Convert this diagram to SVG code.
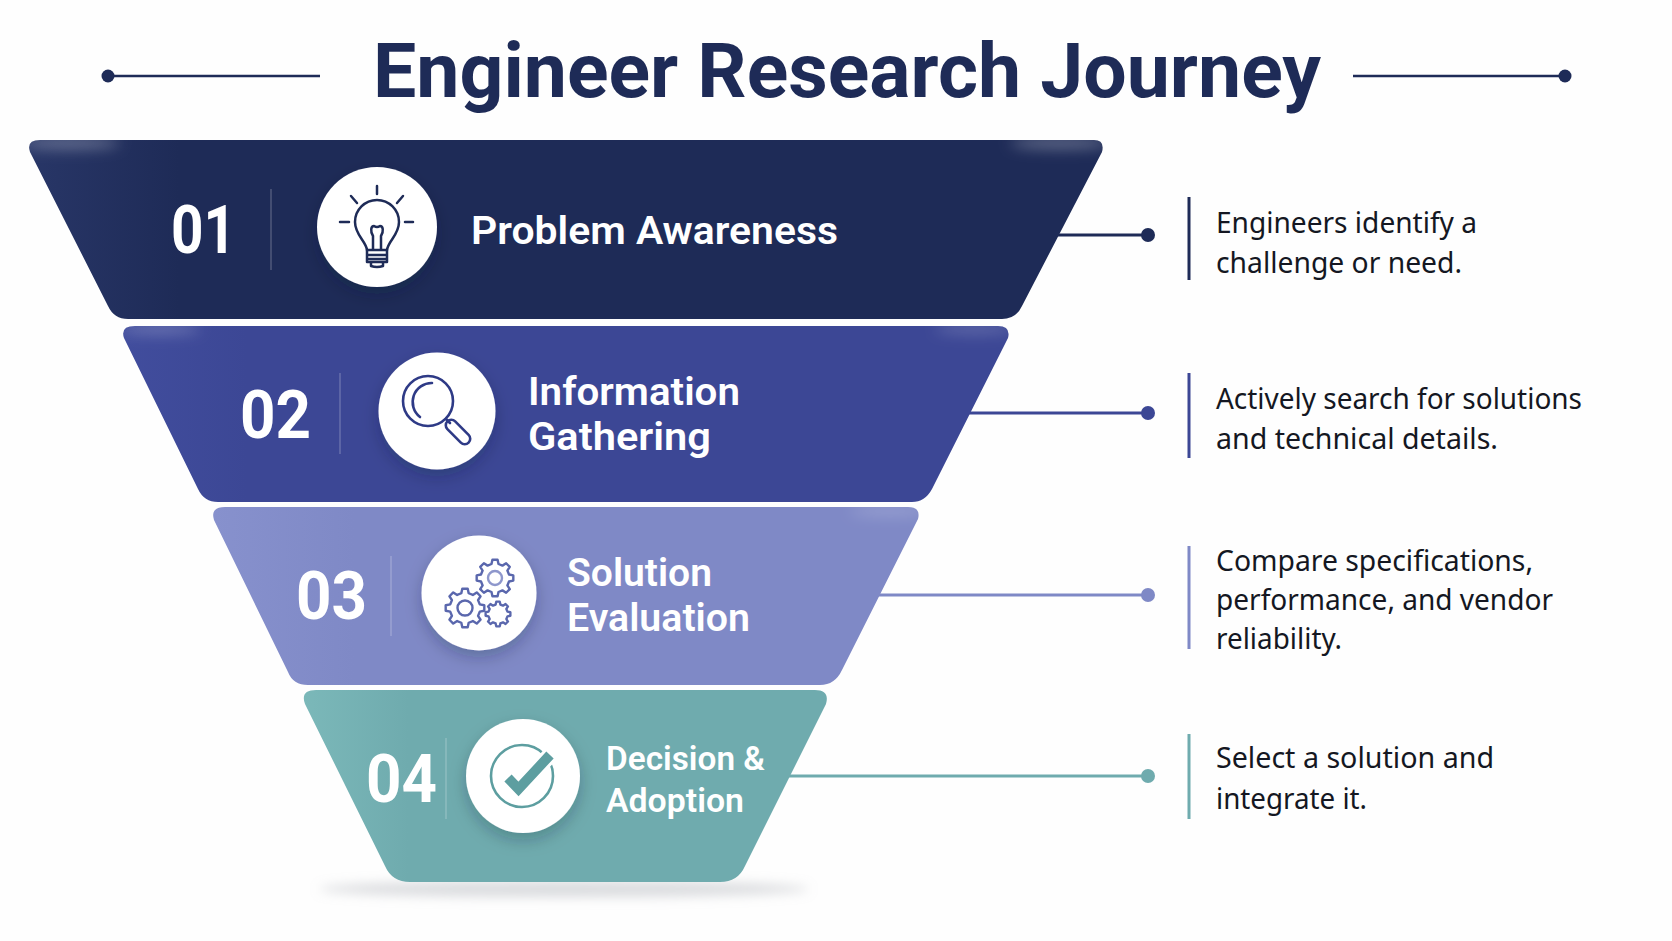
<svg xmlns="http://www.w3.org/2000/svg" xmlns:xlink="http://www.w3.org/1999/xlink" width="1672" height="941" viewBox="0 0 1672 941">
<style>
text{font-family:"Noto Sans","Open Sans",sans-serif}
.title{font-family:Roboto,"Noto Sans",sans-serif;font-size:76px;font-weight:700;fill:#1e2b57}
.num{font-family:Roboto,"Noto Sans",sans-serif;font-size:67px;font-weight:700;fill:#fff}
.lab{font-family:Roboto,"Noto Sans",sans-serif;font-size:38px;font-weight:600;fill:#fff}
.body{font-size:29px;font-weight:400;fill:#141722}
.ic{fill:none;stroke-linecap:round;stroke-linejoin:round}
.gear{fill:none;stroke:#5a67ad;stroke-linejoin:round}
.div{stroke:#fff;stroke-opacity:.22;stroke-width:1.5}
.disc{fill:#fff;filter:url(#ds)}
</style>
<defs>
<filter id="ds" x="-40%" y="-40%" width="180%" height="180%"><feDropShadow dx="0" dy="7" stdDeviation="8" flood-color="#10152f" flood-opacity=".25"/></filter>
<filter id="b8" x="-50%" y="-200%" width="200%" height="500%"><feGaussianBlur stdDeviation="7"/></filter>
<filter id="b6" x="-20%" y="-200%" width="140%" height="500%"><feGaussianBlur stdDeviation="6"/></filter>
<linearGradient id="g1" x1="0" x2="1" y1="0" y2="0"><stop offset="0" stop-color="#283667"/><stop offset=".14" stop-color="#1e2b57"/><stop offset="1" stop-color="#1e2b57"/></linearGradient>
<linearGradient id="g2" x1="0" x2="1" y1="0" y2="0"><stop offset="0" stop-color="#414d9d"/><stop offset=".14" stop-color="#3c4795"/><stop offset="1" stop-color="#3c4795"/></linearGradient>
<linearGradient id="g3" x1="0" x2="1" y1="0" y2="0"><stop offset="0" stop-color="#8791cd"/><stop offset=".2" stop-color="#7f89c6"/><stop offset="1" stop-color="#7f89c6"/></linearGradient>
<linearGradient id="g4" x1="0" x2="1" y1="0" y2="0"><stop offset="0" stop-color="#7bb8b9"/><stop offset=".2" stop-color="#6fabae"/><stop offset="1" stop-color="#6fabae"/></linearGradient>
<path id="p1" d="M40,140H1094Q1105,140 1102,152L1022,306Q1016,319 1002,319H128Q114,319 108,306L30,152Q26,140 40,140Z"/>
<path id="p2" d="M135,326H998Q1011,326 1008,338L932,489Q925,502 912,502H218Q204,502 198,489L124,338Q120,326 135,326Z"/>
<path id="p3" d="M225,507H908Q921,507 918,519L842,670Q835,685 820,685H308Q293,685 288,672L214,520Q210,507 225,507Z"/>
<path id="p4" d="M316,690H815Q830,690 826,704L745,866Q738,882 720,882H410Q392,882 385,866L305,704Q300,690 316,690Z"/>
<clipPath id="c1"><use href="#p1"/></clipPath>
<clipPath id="c2"><use href="#p2"/></clipPath>
<clipPath id="c3"><use href="#p3"/></clipPath>
<clipPath id="c4"><use href="#p4"/></clipPath>
<path id="gearP" d="M.757-.189L.99-.139L.99.139L.757.189L.669.402L.798.602L.602.798L.402.669L.189.757L.139.99L-.139.99L-.189.757L-.402.669L-.602.798L-.798.602L-.669.402L-.757.189L-.99.139L-.99-.139L-.757-.189L-.669-.402L-.798-.602L-.602-.798L-.402-.669L-.189-.757L-.139-.99L.139-.99L.189-.757L.402-.669L.602-.798L.798-.602L.669-.402Z"/>
</defs>
<rect width="1672" height="941" fill="#fefefe"/>

<g id="title">
<text class="title" x="373" y="97" textLength="948" lengthAdjust="spacingAndGlyphs">Engineer Research Journey</text>
<path d="M108,76H320M1353,76H1565" stroke="#1e2b57" stroke-width="2.5" fill="none"/>
<circle cx="108" cy="76" r="6.5" fill="#1e2b57"/>
<circle cx="1565" cy="76" r="6.5" fill="#1e2b57"/>
</g>

<ellipse id="funnel-shadow" cx="564" cy="889" rx="245" ry="8" fill="#a6a9b0" fill-opacity=".42" filter="url(#b6)"/>

<g id="connectors" fill="none" stroke-width="3">
<path d="M1050,235H1148" stroke="#1e2b57"/>
<path d="M965,413H1148" stroke="#3c4795"/>
<path d="M875,595H1148" stroke="#7f89c6"/>
<path d="M785,776H1148" stroke="#6fabae"/>
<g stroke="none">
<circle cx="1148" cy="235" r="7" fill="#1e2b57"/>
<circle cx="1148" cy="413" r="7" fill="#3c4795"/>
<circle cx="1148" cy="595" r="7" fill="#7f89c6"/>
<circle cx="1148" cy="776" r="7" fill="#6fabae"/>
</g>
</g>

<g id="node-1">
<use href="#p1" fill="url(#g1)"/>
<g clip-path="url(#c1)"><ellipse cx="70" cy="143" rx="50" ry="6" fill="#fff" fill-opacity=".3" filter="url(#b8)"/><ellipse cx="1060" cy="143" rx="50" ry="6" fill="#fff" fill-opacity=".3" filter="url(#b8)"/></g>
<text class="num" x="171" y="253" textLength="65" lengthAdjust="spacingAndGlyphs">01</text>
<line class="div" x1="271" y1="189" x2="271" y2="270"/>
<circle class="disc" cx="377" cy="227" r="60"/>
<g class="ic" stroke="#1e2b57" stroke-width="2.5">
<path d="M377,186V194M351,196L357,203M403,196L397,203M340,222H349M405,222H413"/>
<path d="M367,250C366,241 355,235 355,222A22,22 0 0 1 399,222C399,235 388,241 387,250Z"/>
<path d="M373,249V236C370,231 371,226 374,226Q377,228 380,226C383,226 384,231 381,236V249"/>
<path d="M367,250V262H387V250M367,255H387M367,259H387M371,262V266Q377,268 383,266V262"/>
</g>
<text class="lab" x="471" y="244" textLength="367" lengthAdjust="spacingAndGlyphs">Problem Awareness</text>
</g>

<g id="node-2">
<use href="#p2" fill="url(#g2)"/>
<g clip-path="url(#c2)"><ellipse cx="160" cy="329" rx="40" ry="5" fill="#fff" fill-opacity=".25" filter="url(#b8)"/><ellipse cx="975" cy="329" rx="40" ry="5" fill="#fff" fill-opacity=".2" filter="url(#b8)"/></g>
<text class="num" x="240" y="438" textLength="71" lengthAdjust="spacingAndGlyphs">02</text>
<line class="div" x1="340" y1="373" x2="340" y2="454"/>
<circle class="disc" cx="437" cy="411" r="58.5"/>
<g class="ic" stroke="#2e3a86" stroke-width="2.6">
<circle cx="428" cy="401" r="25"/>
<path d="M432,383A19,19 0 0 0 420,417"/>
<path d="M446,419L450,423"/>
<rect x="443" y="426.5" width="30" height="11" rx="5.5" transform="rotate(45 458 432)"/>
</g>
<text class="lab" x="528" y="405" textLength="212" lengthAdjust="spacingAndGlyphs">Information</text>
<text class="lab" x="528" y="450" textLength="183" lengthAdjust="spacingAndGlyphs">Gathering</text>
</g>

<g id="node-3">
<use href="#p3" fill="url(#g3)"/>
<g clip-path="url(#c3)"><ellipse cx="890" cy="511" rx="40" ry="5" fill="#fff" fill-opacity=".2" filter="url(#b8)"/></g>
<text class="num" x="296" y="619" textLength="71" lengthAdjust="spacingAndGlyphs">03</text>
<line class="div" x1="391" y1="556" x2="391" y2="636"/>
<circle class="disc" cx="479" cy="593" r="57.5"/>
<use class="gear" href="#gearP" stroke-width=".13" transform="translate(495 578) scale(18.5)"/>
<use class="gear" href="#gearP" stroke-width=".123" transform="translate(465 608) scale(19.5)"/>
<use class="gear" href="#gearP" stroke-width=".19" transform="translate(498 614) scale(12.5)"/>
<circle cx="495" cy="578" r="7" fill="#fff" stroke="#8e97cc" stroke-width="2.4"/>
<circle cx="465" cy="608" r="7.5" fill="#fff" stroke="#5a67ad" stroke-width="2.4"/>
<text class="lab" x="567" y="586" textLength="145" lengthAdjust="spacingAndGlyphs">Solution</text>
<text class="lab" x="567" y="631" textLength="183" lengthAdjust="spacingAndGlyphs">Evaluation</text>
</g>

<g id="node-4">
<use href="#p4" fill="url(#g4)"/>
<text class="num" x="366" y="802" textLength="71" lengthAdjust="spacingAndGlyphs">04</text>
<line class="div" x1="446" y1="738" x2="446" y2="819"/>
<circle class="disc" cx="523" cy="776" r="57"/>
<circle cx="522" cy="776" r="31" fill="none" stroke="#5d9ea0" stroke-width="2.6"/>
<path d="M508,778L518.5,789L550,755" fill="none" stroke="#fff" stroke-width="16"/>
<path d="M508,778L518.5,789L550,755" fill="none" stroke="#5d9ea0" stroke-width="10"/>
<text class="lab" style="font-size:34px" x="606" y="770" textLength="159" lengthAdjust="spacingAndGlyphs">Decision &amp;</text>
<text class="lab" style="font-size:34px" x="606" y="812" textLength="138" lengthAdjust="spacingAndGlyphs">Adoption</text>
</g>

<g id="desc-1">
<line x1="1189" y1="197" x2="1189" y2="280" stroke="#1e2b57" stroke-width="3"/>
<text class="body" x="1216" y="233" textLength="261" lengthAdjust="spacingAndGlyphs">Engineers identify a</text>
<text class="body" x="1216" y="273" textLength="246" lengthAdjust="spacingAndGlyphs">challenge or need.</text>
</g>
<g id="desc-2">
<line x1="1189" y1="373" x2="1189" y2="458" stroke="#3c4795" stroke-width="3"/>
<text class="body" x="1216" y="409" textLength="366" lengthAdjust="spacingAndGlyphs">Actively search for solutions</text>
<text class="body" x="1216" y="449" textLength="282" lengthAdjust="spacingAndGlyphs">and technical details.</text>
</g>
<g id="desc-3">
<line x1="1189" y1="546" x2="1189" y2="649" stroke="#7f89c6" stroke-width="3"/>
<text class="body" x="1216" y="571" textLength="317" lengthAdjust="spacingAndGlyphs">Compare specifications,</text>
<text class="body" x="1216" y="610" textLength="337" lengthAdjust="spacingAndGlyphs">performance, and vendor</text>
<text class="body" x="1216" y="649" textLength="126" lengthAdjust="spacingAndGlyphs">reliability.</text>
</g>
<g id="desc-4">
<line x1="1189" y1="734" x2="1189" y2="819" stroke="#6fabae" stroke-width="3"/>
<text class="body" x="1216" y="768" textLength="278" lengthAdjust="spacingAndGlyphs">Select a solution and</text>
<text class="body" x="1216" y="809" textLength="151" lengthAdjust="spacingAndGlyphs">integrate it.</text>
</g>
</svg>
